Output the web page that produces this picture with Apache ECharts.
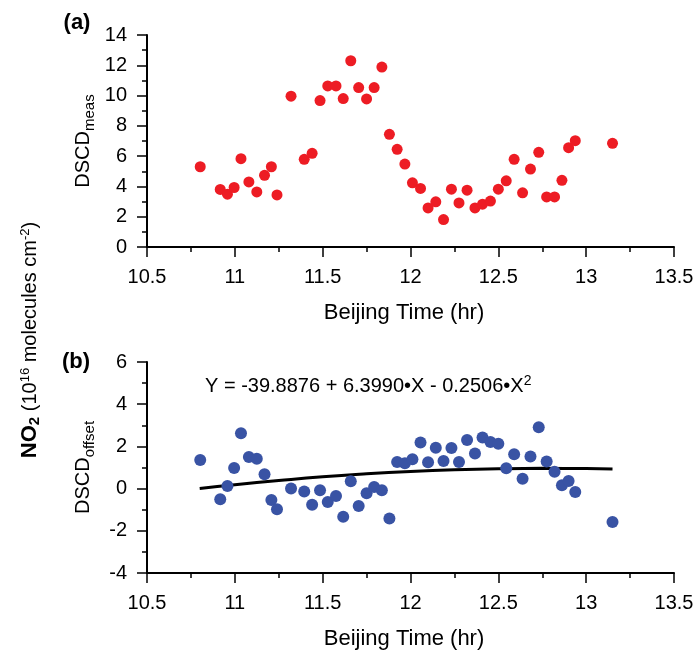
<!DOCTYPE html>
<html><head><meta charset="utf-8">
<script src="https://cdn.jsdelivr.net/npm/echarts@6/dist/echarts.min.js"></script>
<style>html,body{margin:0;padding:0;background:#fff}#c{width:699px;height:661px}</style>
</head><body><div id="c"></div>
<script>
// ---- data ----
const timeHr = [10.803,10.917,10.958,10.996,11.035,11.080,11.125,11.169,11.208,11.240,
  11.320,11.395,11.440,11.485,11.529,11.576,11.617,11.660,11.705,11.750,
  11.793,11.837,11.880,11.924,11.968,12.011,12.057,12.100,12.144,12.188,
  12.233,12.276,12.322,12.367,12.410,12.455,12.500,12.545,12.590,12.638,
  12.683,12.730,12.775,12.820,12.862,12.900,12.938,13.150];
const dscdMeas = [5.30,3.80,3.49,3.93,5.83,4.30,3.64,4.73,5.30,3.44,
  9.96,5.79,6.19,9.67,10.64,10.64,9.80,12.30,10.53,9.78,
  10.53,11.88,7.44,6.45,5.48,4.24,3.87,2.58,2.98,1.81,
  3.82,2.91,3.75,2.58,2.83,3.03,3.82,4.37,5.79,3.58,
  5.15,6.25,3.31,3.31,4.40,6.56,7.02,6.85];
const dscdOffset = [1.36,-0.51,0.12,0.98,2.62,1.50,1.42,0.68,-0.54,-0.98,
  0.01,-0.14,-0.76,-0.08,-0.63,-0.35,-1.33,0.35,-0.82,-0.22,
  0.08,-0.08,-1.42,1.26,1.20,1.39,2.18,1.25,1.94,1.31,
  1.92,1.26,2.30,1.66,2.42,2.21,2.13,0.96,1.63,0.47,
  1.52,2.91,1.28,0.80,0.16,0.36,-0.16,-1.58];
const fitTime = [10.8,11.0,11.25,11.5,11.75,12.0,12.25,12.5,12.75,13.0,13.15];
const fitOffset = [0.00,0.18,0.38,0.56,0.70,0.81,0.89,0.94,0.96,0.95,0.93];
const xTickLabels = ['10.5','11','11.5','12','12.5','13','13.5'];
const measTickLabels = ['0','2','4','6','8','10','12','14'];
const offsetTickLabels = ['-4','-2','0','2','4','6'];
const fitEquation = 'Y = -39.8876 + 6.3990\u2022X - 0.2506\u2022X';

// ---- chart ----
const FONT = '"Liberation Sans", Arial, sans-serif';
const labelFrom = list => v => { const s = list.find(l => Math.abs(Number(l) - v) < 1e-9); return s === undefined ? '' : s; };
const zip = (a, b) => a.map((x, i) => [x, b[i]]);

function axisCommon() {
  return {
    type: 'value',
    axisLine: { show: true, onZero: false, lineStyle: { color: '#000', width: 2 } },
    axisTick: { show: true, inside: false, length: 10, lineStyle: { color: '#000', width: 1.5 } },
    minorTick: { show: true, splitNumber: 2, length: 5, lineStyle: { color: '#000', width: 1.5 } },
    splitLine: { show: false }, minorSplitLine: { show: false },
    nameMoveOverlap: false
  };
}
function xAxisCfg(gi) {
  return Object.assign(axisCommon(), {
    gridIndex: gi, min: 10.5, max: 13.5, interval: 0.5,
    name: 'Beijing Time (hr)', nameLocation: 'middle', nameGap: 55,
    nameTextStyle: { fontFamily: FONT, fontSize: 22, color: '#000', padding: [0, 13, 0, 0] },
    axisLabel: { fontFamily: FONT, fontSize: 20, color: '#000', margin: 20, showMinLabel: true, showMaxLabel: true,
      formatter: labelFrom(xTickLabels) }
  });
}
function yAxisCfg(gi, min, max, labels, sub) {
  return Object.assign(axisCommon(), {
    gridIndex: gi, min, max, interval: 2,
    name: '{d|DSCD}{s|' + sub + '}', nameLocation: 'middle', nameRotate: 90, nameGap: 50,
    nameTextStyle: { fontFamily: FONT, color: '#000',
      rich: { d: { fontFamily: FONT, fontSize: 20, color: '#000' },
              s: { fontFamily: FONT, fontSize: 15, color: '#000', padding: [13, 0, 0, 0] } } },
    axisLabel: { fontFamily: FONT, fontSize: 20, color: '#000', margin: 20, showMinLabel: true, showMaxLabel: true,
      formatter: labelFrom(labels) }
  });
}

const chart = echarts.init(document.getElementById('c'), null, { renderer: 'canvas' });
chart.setOption({
  backgroundColor: '#fff',
  animation: false,
  grid: [
    { left: 147, top: 35, width: 527, height: 212, containLabel: false, outerBoundsMode: 'none' },
    { left: 147, top: 362, width: 527, height: 211, containLabel: false, outerBoundsMode: 'none' }
  ],
  xAxis: [xAxisCfg(0), xAxisCfg(1)],
  yAxis: [yAxisCfg(0, 0, 14, measTickLabels, 'meas'), yAxisCfg(1, -4, 6, offsetTickLabels, 'offset')],
  series: [
    { type: 'scatter', xAxisIndex: 0, yAxisIndex: 0, data: zip(timeHr, dscdMeas),
      symbol: 'circle', symbolSize: 11, itemStyle: { color: '#ED1C24', opacity: 1 }, z: 3 },
    { type: 'line', xAxisIndex: 1, yAxisIndex: 1, data: zip(fitTime, fitOffset), smooth: true,
      showSymbol: false, symbol: 'none', lineStyle: { color: '#000', width: 3 }, z: 2 },
    { type: 'scatter', xAxisIndex: 1, yAxisIndex: 1, data: zip(timeHr, dscdOffset),
      symbol: 'circle', symbolSize: 12, itemStyle: { color: '#3953A4', opacity: 1 }, z: 3 }
  ],
  graphic: [
    { type: 'text', x: 77, y: 23, style: { text: '(a)', font: 'bold 22px ' + FONT, fill: '#000', align: 'center', verticalAlign: 'middle' } },
    { type: 'text', x: 76, y: 362, style: { text: '(b)', font: 'bold 22px ' + FONT, fill: '#000', align: 'center', verticalAlign: 'middle' } },
    { type: 'text', x: 205, y: 386, style: {
        text: '{t|' + fitEquation + '}{sup|2}', align: 'left', verticalAlign: 'middle',
        rich: { t: { fontFamily: FONT, fontSize: 20, color: '#000' },
                sup: { fontFamily: FONT, fontSize: 14, color: '#000', padding: [0, 0, 10, 0] } } } },
    { type: 'text', x: 30, y: 340, rotation: Math.PI / 2, style: {
        text: '{b|NO}{bs|2}{n| (10}{sup|16}{n| molecules cm}{sup|-2}{n|)}', align: 'center', verticalAlign: 'middle',
        rich: { b: { fontFamily: FONT, fontWeight: 'bold', fontSize: 22, color: '#000' },
                bs: { fontFamily: FONT, fontWeight: 'bold', fontSize: 15, color: '#000', padding: [10, 0, 0, 0] },
                n: { fontFamily: FONT, fontSize: 20, color: '#000' },
                sup: { fontFamily: FONT, fontSize: 13, color: '#000', padding: [0, 0, 10, 0] } } } }
  ]
});
</script>
</body></html>
